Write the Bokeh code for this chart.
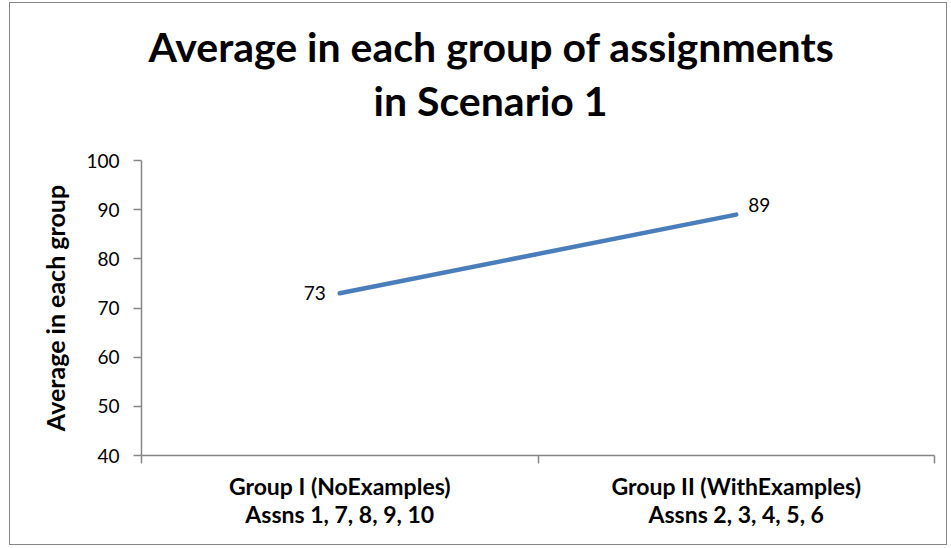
from bokeh.plotting import figure
from bokeh.models import (ColumnDataSource, Range1d, LinearAxis, FixedTicker, Title, LabelSet)
from bokeh.core.properties import value
from bokeh.embed import file_html
from bokeh.resources import INLINE

categories = ["Group I (NoExamples)\nAssns 1, 7, 8, 9, 10",
              "Group II (WithExamples)\nAssns 2, 3, 4, 5, 6"]
averages = [73, 89]
y_ticks = [40, 50, 60, 70, 80, 90, 100]
title_lines = ["Average in each group of assignments", "in Scenario 1"]
y_label = "Average in each group"

FONT = "Lato"
GRAY = "#868686"

# category slots: each category occupies one unit, centred at i + 0.5
xpos = [i + 0.5 for i in range(len(categories))]
src = ColumnDataSource(dict(x=xpos, y=averages))

p = figure(width=938, height=543, x_range=Range1d(0, len(categories)),
           y_range=Range1d(y_ticks[0], y_ticks[-1]), output_backend="svg",
           toolbar_location=None, x_axis_location=None, y_axis_location=None,
           min_border_left=131, min_border_right=14, min_border_top=157, min_border_bottom=91)
p.styles = {"border": "1px solid " + GRAY, "margin-left": "9px", "margin-top": "2px"}
p.outline_line_color = None
p.xgrid.visible = False
p.ygrid.visible = False

# y axis
yax = LinearAxis(ticker=FixedTicker(ticks=y_ticks), axis_label=y_label)
yax.axis_line_color = GRAY
yax.axis_line_width = 1.5
yax.major_tick_line_color = GRAY
yax.major_tick_line_width = 1.5
yax.major_tick_in = 0
yax.major_tick_out = 8
yax.minor_tick_line_color = None
yax.major_label_text_font = FONT
yax.major_label_text_font_size = "19px"
yax.major_label_text_color = "black"
yax.major_label_standoff = 14
yax.axis_label_text_font = FONT
yax.axis_label_text_font_size = "25px"
yax.axis_label_text_font_style = "bold"
yax.axis_label_text_color = "black"
yax.axis_label_standoff = 13
p.add_layout(yax, "left")

# x axis: labels at category centres, tick marks at category boundaries
xax = LinearAxis(ticker=FixedTicker(ticks=xpos, minor_ticks=list(range(len(categories) + 1))))
xax.major_label_overrides = {x: c for x, c in zip(xpos, categories)}
xax.axis_line_color = GRAY
xax.axis_line_width = 1.5
xax.major_tick_line_color = None
xax.minor_tick_line_color = GRAY
xax.minor_tick_line_width = 1.5
xax.minor_tick_in = 0
xax.minor_tick_out = 8
xax.major_label_text_font = FONT
xax.major_label_text_font_size = "23px"
xax.major_label_text_font_style = "bold"
xax.major_label_text_color = "black"
xax.major_label_standoff = 8
xax.major_label_text_line_height = 1.03
p.add_layout(xax, "below")

p.line("x", "y", source=src, line_color="#4a7ebb", line_width=4.5, line_cap="round")

src0 = ColumnDataSource(dict(x=xpos[:1], y=averages[:1], t=[str(v) for v in averages[:1]]))
src1 = ColumnDataSource(dict(x=xpos[1:], y=averages[1:], t=[str(v) for v in averages[1:]]))
p.add_layout(LabelSet(source=src0, x="x", y="y", text="t", x_offset=-14,
                      text_align="right", text_baseline="middle", text_font=value(FONT),
                      text_font_size="19px", text_color="black"))
p.add_layout(LabelSet(source=src1, x="x", y="y", text="t", x_offset=12, y_offset=10,
                      text_align="left", text_baseline="middle", text_font=value(FONT),
                      text_font_size="19px", text_color="black"))

# two-line title (second line is closest to the frame)
p.add_layout(Title(text=title_lines[1], align="left", offset=232, text_font=FONT,
                   text_font_size="41px", text_font_style="bold", text_color="black",
                   standoff=72), "above")
p.add_layout(Title(text=title_lines[0], align="left", offset=7, text_font=FONT,
                   text_font_size="41px", text_font_style="bold", text_color="black",
                   standoff=-67), "above")

open("out.html", "w").write(file_html(p, INLINE))
